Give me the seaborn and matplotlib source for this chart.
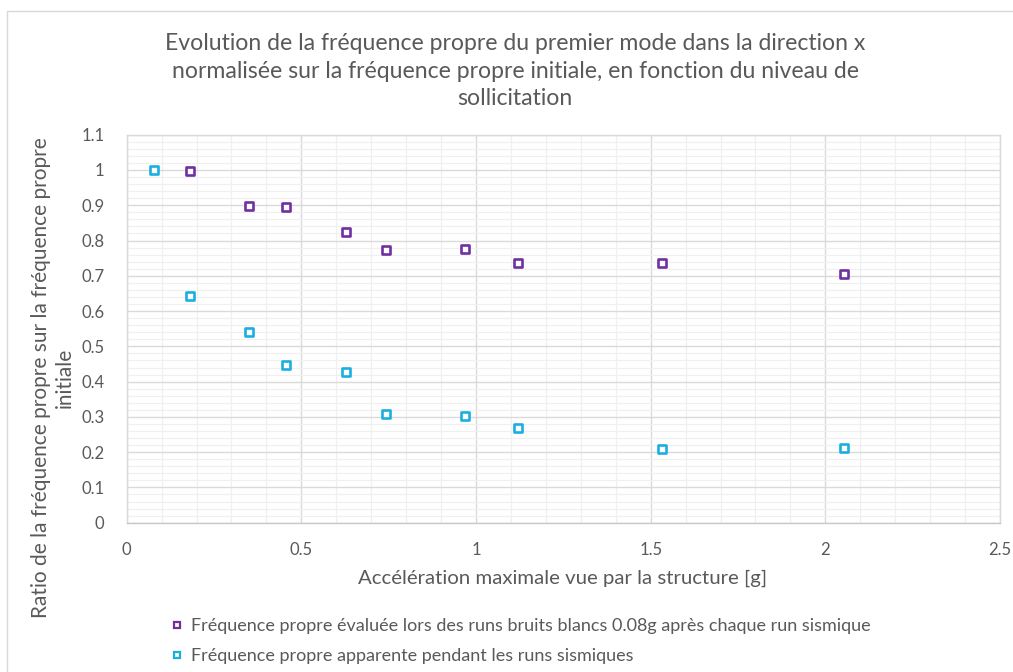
import numpy as np
import pandas as pd
import matplotlib
matplotlib.use("Agg")
import matplotlib.pyplot as plt
from matplotlib.ticker import MultipleLocator
from matplotlib.lines import Line2D
import seaborn as sns

# Peak acceleration seen by the structure [g]
accel_bruit_blanc = [0.18, 0.35, 0.456, 0.627, 0.741, 0.969, 1.121, 1.531, 2.054]
accel_sismique = [0.078, 0.18, 0.35, 0.456, 0.627, 0.741, 0.969, 1.121, 1.531, 2.054]

# Natural frequency normalised on the initial frequency
ratio_bruit_blanc = [0.996, 0.899, 0.895, 0.823, 0.774, 0.776, 0.737, 0.737, 0.704]
ratio_sismique = [1.0, 0.642, 0.541, 0.448, 0.426, 0.307, 0.303, 0.269, 0.208, 0.211]

serie_bb = "Fréquence propre évaluée lors des runs bruits blancs 0.08g après chaque run sismique"
serie_sis = "Fréquence propre apparente pendant les runs sismiques"

titre = ("Evolution de la fréquence propre du premier mode dans la direction x\n"
         "normalisée sur la fréquence propre initiale, en fonction du niveau de\n"
         "sollicitation")
label_x = "Accélération maximale vue par la structure [g]"
label_y = "Ratio de la fréquence propre sur la fréquence propre\ninitiale"

couleurs = {serie_bb: "#7030A0", serie_sis: "#1AAFE0"}

df = pd.concat([
    pd.DataFrame({"x": accel_bruit_blanc, "y": ratio_bruit_blanc, "serie": serie_bb}),
    pd.DataFrame({"x": accel_sismique, "y": ratio_sismique, "serie": serie_sis}),
], ignore_index=True)

sns.set_theme(style="white")
plt.rcParams["font.family"] = ["Lato", "DejaVu Sans"]
gris = "#595959"

fig = plt.figure(figsize=(10.13, 6.72), dpi=100)
W, H = 1013, 672
ax = fig.add_axes([126.7 / W, 1 - 522.7 / H, (1000 - 126.7) / W, (522.7 - 134.7) / H])

for serie, sub in df.groupby("serie", sort=False):
    sns.scatterplot(data=sub, x="x", y="y", ax=ax, marker="s", s=34,
                    facecolor="white", edgecolor=couleurs[serie], linewidth=1.9,
                    zorder=3, legend=False)

ax.set_xlim(0, 2.5)
ax.set_ylim(0, 1.1)
ax.xaxis.set_major_locator(MultipleLocator(0.5))
ax.xaxis.set_minor_locator(MultipleLocator(0.1))
ax.yaxis.set_major_locator(MultipleLocator(0.1))
ax.yaxis.set_minor_locator(MultipleLocator(0.02))
ax.grid(which="major", color="#DADADA", linewidth=1.0)
ax.grid(which="minor", color="#F0F0F0", linewidth=0.9)
ax.set_axisbelow(True)

ax.set_xticks([0, 0.5, 1, 1.5, 2, 2.5])
ax.set_xticklabels(["0", "0.5", "1", "1.5", "2", "2.5"])
ax.set_yticks(np.round(np.arange(0, 1.11, 0.1), 1))
ax.set_yticklabels(["0", "0.1", "0.2", "0.3", "0.4", "0.5", "0.6", "0.7", "0.8",
                    "0.9", "1", "1.1"])
ax.tick_params(axis="both", which="both", length=0, labelsize=12, colors=gris)
ax.tick_params(axis="x", pad=14)
ax.tick_params(axis="y", pad=16)
for side, sp in ax.spines.items():
    sp.set_color("#D9D9D9")
    sp.set_linewidth(1.0)
ax.spines["bottom"].set_color("#C8C8C8")
ax.set_xlabel("")
ax.set_ylabel("")

fig.text(563 / W, 1 - 578 / H, label_x, ha="center", va="center",
         fontsize=14.7, color=gris)
fig.text(53 / W, 1 - 378 / H, label_y, ha="center", va="center", rotation=90,
         multialignment="center", fontsize=15, color=gris, linespacing=1.2)
fig.text(515 / W, 1 - 71 / H, titre, ha="center", va="center",
         fontsize=16.6, color=gris, linespacing=1.4)

handles = [Line2D([], [], linestyle="none", marker="s", markersize=5,
                  markerfacecolor="white", markeredgecolor=couleurs[s],
                  markeredgewidth=1.6) for s in (serie_bb, serie_sis)]
fig.legend(handles, [serie_bb, serie_sis], loc="upper left",
           bbox_to_anchor=(161 / W, 1 - 609 / H), frameon=False,
           fontsize=13, labelcolor=gris, handlelength=0.8,
           handletextpad=0.35, labelspacing=0.8, borderpad=0)

# Chart area border
fig.add_artist(Line2D([7 / W, 1], [1 - 11 / H, 1 - 11 / H],
                      transform=fig.transFigure, color="#D9D9D9", linewidth=1.0))
fig.add_artist(Line2D([7 / W, 7 / W], [0, 1 - 11 / H],
                      transform=fig.transFigure, color="#D9D9D9", linewidth=1.0))

fig.savefig("out.png", dpi=100, facecolor="white")
